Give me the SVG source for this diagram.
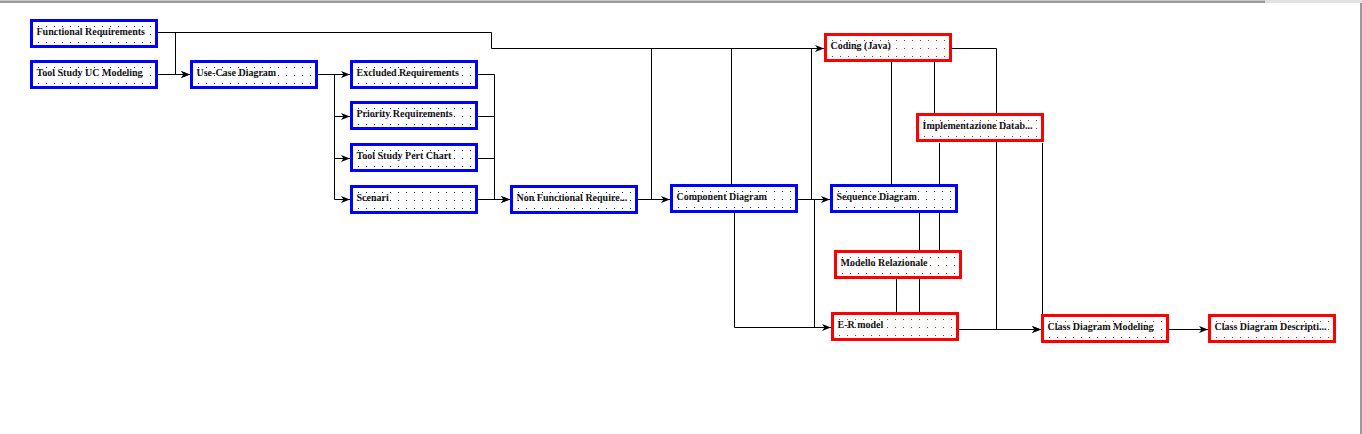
<svg xmlns="http://www.w3.org/2000/svg" width="1362" height="434" viewBox="0 0 1362 434">
<style>
.box{fill:#fff;stroke-width:3}
.blue .box{stroke:#0000ff}
.red .box{stroke:#ff0000}
.blue .dots{fill:url(#dotsBlue)}
.red .dots{fill:url(#dotsRed)}
text{font-family:"Liberation Serif","Times New Roman",serif;font-size:10px;font-weight:bold;fill:#111}
#connectors path{fill:none;stroke:#000;stroke-width:1}
#connectors .arr{marker-end:url(#ah)}
</style>
<defs>
<pattern id="dotsBlue" patternUnits="userSpaceOnUse" x="4" y="3" width="8" height="8"><rect x="4" y="4" width="1" height="1" fill="#0000ff"/></pattern>
<pattern id="dotsRed" patternUnits="userSpaceOnUse" x="4" y="3" width="8" height="8"><rect x="4" y="4" width="1" height="1" fill="#ff0000"/></pattern>
<marker id="ah" markerUnits="userSpaceOnUse" markerWidth="10" markerHeight="8" refX="9" refY="3.5" orient="auto"><path d="M0,0 L9,3.5 L0,7 L2.5,3.5 z" fill="#000"/></marker>
</defs>
<rect width="1362" height="434" fill="#fff"/>
<g id="frame">
<rect x="0" y="0" width="1265" height="3" fill="#9a9a9a"/>
<rect x="0" y="0" width="1265" height="1" fill="#c8c8c8"/>
<rect x="1265" y="0" width="97" height="3" fill="#e2e2e2"/>
<rect x="1360" y="3" width="2" height="431" fill="#9a9a9a"/>
</g>
<g id="connectors">
<path class="arr" d="M157,32.5 H175.5 V74.5 H190"/>
<path class="arr" d="M157,74.5 H190"/>
<path class="arr" d="M157,32.5 H491.5 V48.5 H824"/>
<path class="arr" d="M317,74.5 H350"/>
<path class="arr" d="M334.5,74.5 V116.5 H350"/>
<path class="arr" d="M334.5,74.5 V158.5 H350"/>
<path class="arr" d="M334.5,74.5 V199.5 H350"/>
<path class="arr" d="M477,74.5 H494.5 V199.5 H510"/>
<path d="M477,116.5 H494.5"/>
<path d="M477,158.5 H494.5"/>
<path class="arr" d="M477,199.5 H510"/>
<path class="arr" d="M637,199.5 H670"/>
<path d="M651.5,199.5 V48.5"/>
<path d="M731.5,184 V48.5"/>
<path class="arr" d="M797,199.5 H830"/>
<path d="M811.5,199.5 V48.5"/>
<path d="M814.5,199.5 V327.5"/>
<path class="arr" d="M734.5,213 V327.5 H831"/>
<path d="M891.5,62 V184"/>
<path d="M934.5,62 V113"/>
<path class="arr" d="M952,48.5 H996.5 V329.5 H1041"/>
<path d="M939.5,143 V250"/>
<path d="M1042.5,143 V314"/>
<path d="M919.5,213 V312"/>
<path d="M896.5,279 V312"/>
<path class="arr" d="M958,329.5 H1041"/>
<path class="arr" d="M1168,329.5 H1208"/>
</g>
<g id="n-functional-requirements" class="node blue" transform="translate(30,19)"><rect class="box" x="1.5" y="1.5" width="125" height="26"/><rect class="dots" x="5" y="4" width="119" height="22"/><text x="6.5" y="16">Functional Requirements</text></g>
<g id="n-tool-study-uc" class="node blue" transform="translate(30,60)"><rect class="box" x="1.5" y="1.5" width="125" height="26"/><rect class="dots" x="5" y="4" width="119" height="22"/><text x="6.5" y="16">Tool Study UC Modeling</text></g>
<g id="n-use-case" class="node blue" transform="translate(190,60)"><rect class="box" x="1.5" y="1.5" width="125" height="26"/><rect class="dots" x="5" y="4" width="119" height="22"/><text x="6.5" y="16">Use-Case Diagram</text></g>
<g id="n-excluded" class="node blue" transform="translate(350,60)"><rect class="box" x="1.5" y="1.5" width="125" height="26"/><rect class="dots" x="5" y="4" width="119" height="22"/><text x="6.5" y="16">Excluded Requirements</text></g>
<g id="n-priority" class="node blue" transform="translate(350,101)"><rect class="box" x="1.5" y="1.5" width="125" height="26"/><rect class="dots" x="5" y="4" width="119" height="22"/><text x="6.5" y="16">Priority Requirements</text></g>
<g id="n-pert" class="node blue" transform="translate(350,143)"><rect class="box" x="1.5" y="1.5" width="125" height="26"/><rect class="dots" x="5" y="4" width="119" height="22"/><text x="6.5" y="16">Tool Study Pert Chart</text></g>
<g id="n-scenari" class="node blue" transform="translate(350,185)"><rect class="box" x="1.5" y="1.5" width="125" height="26"/><rect class="dots" x="5" y="4" width="119" height="22"/><text x="6.5" y="16">Scenari</text></g>
<g id="n-nonfunctional" class="node blue" transform="translate(510,185)"><rect class="box" x="1.5" y="1.5" width="125" height="26"/><rect class="dots" x="5" y="4" width="119" height="22"/><text x="6.5" y="16">Non Functional Require...</text></g>
<g id="n-component" class="node blue" transform="translate(670,184)"><rect class="box" x="1.5" y="1.5" width="125" height="26"/><rect class="dots" x="5" y="4" width="119" height="22"/><text x="6.5" y="16">Component Diagram</text></g>
<g id="n-coding" class="node red" transform="translate(824,33)"><rect class="box" x="1.5" y="1.5" width="125" height="26"/><rect class="dots" x="5" y="4" width="119" height="22"/><text x="6.5" y="16">Coding (Java)</text></g>
<g id="n-implementazione" class="node red" transform="translate(916,113)"><rect class="box" x="1.5" y="1.5" width="125" height="26"/><rect class="dots" x="5" y="4" width="119" height="22"/><text x="6.5" y="16">Implementazione Datab...</text></g>
<g id="n-sequence" class="node blue" transform="translate(830,184)"><rect class="box" x="1.5" y="1.5" width="125" height="26"/><rect class="dots" x="5" y="4" width="119" height="22"/><text x="6.5" y="16">Sequence Diagram</text></g>
<g id="n-modello" class="node red" transform="translate(834,250)"><rect class="box" x="1.5" y="1.5" width="125" height="26"/><rect class="dots" x="5" y="4" width="119" height="22"/><text x="6.5" y="16">Modello Relazionale</text></g>
<g id="n-er-model" class="node red" transform="translate(831,312)"><rect class="box" x="1.5" y="1.5" width="125" height="26"/><rect class="dots" x="5" y="4" width="119" height="22"/><text x="6.5" y="16">E-R model</text></g>
<g id="n-class-modeling" class="node red" transform="translate(1041,314)"><rect class="box" x="1.5" y="1.5" width="125" height="26"/><rect class="dots" x="5" y="4" width="119" height="22"/><text x="6.5" y="16">Class Diagram Modeling</text></g>
<g id="n-class-description" class="node red" transform="translate(1208,314)"><rect class="box" x="1.5" y="1.5" width="125" height="26"/><rect class="dots" x="5" y="4" width="119" height="22"/><text x="6.5" y="16">Class Diagram Descripti...</text></g>
</svg>
